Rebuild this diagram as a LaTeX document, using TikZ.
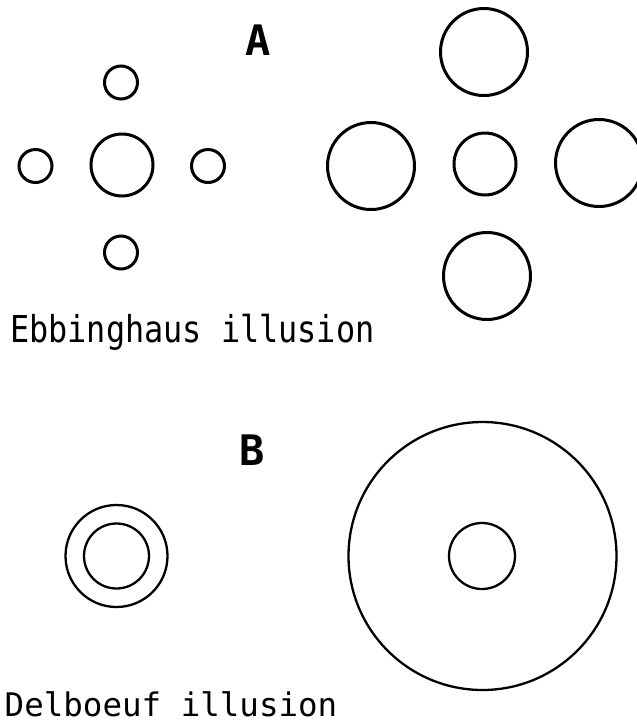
\documentclass[tikz,border=0pt]{standalone}
\usepackage{fontspec}
\newfontfamily\labelfont{DejaVu Sans Mono}
\tikzset{
  ring/.style={circle, draw, inner sep=0pt, minimum size=#1},
  thick ring/.style={ring=#1, line width=3pt},
  thin ring/.style={ring=#1, line width=2.3pt},
  panel letter/.style={inner sep=0pt, font=\labelfont\bfseries\fontsize{42}{42}\selectfont},
  caption/.style={inner sep=0pt, anchor=base west, font=\labelfont\fontsize{32.5}{32.5}\selectfont}
}
\begin{document}
\begin{tikzpicture}[x=1pt,y=-1pt]
\useasboundingbox (0,0) rectangle (637,724);

% Panel A: Ebbinghaus figure
\node[panel letter] (lblA) at (258,40) {A};
% left: large centre among small circles
\node[thick ring=62pt] (lc) at (122,165) {};
\node[thick ring=33pt] (lt) at (121,82.5) {};
\node[thick ring=33pt] (lb) at (121,252.5) {};
\node[thick ring=33pt] (ll) at (35.5,166) {};
\node[thick ring=33pt] (lr) at (208,166) {};
% right: same centre among large circles
\node[thick ring=62pt] (rc) at (485,164) {};
\node[thick ring=87pt] (rt) at (484,52) {};
\node[thick ring=87pt] (rb) at (487,276) {};
\node[thick ring=87pt] (rl) at (371,166) {};
\node[thick ring=87pt] (rr) at (599,163) {};
\node[caption] (capA) at (10,342.5) {\scalebox{0.98}[1.14]{Ebbinghaus illusion}};

% Panel B: Delboeuf figure
\node[panel letter] (lblB) at (252,450) {B};
\node[thin ring=102pt] (dlo) at (116.5,556) {};
\node[thin ring=65pt] (dli) at (116.5,556) {};
\node[thin ring=268pt] (dro) at (482.5,556) {};
\node[thin ring=66pt] (dri) at (482,556) {};
\node[caption] (capB) at (4.5,716.5) {Delboeuf illusion};
\end{tikzpicture}
\end{document}
